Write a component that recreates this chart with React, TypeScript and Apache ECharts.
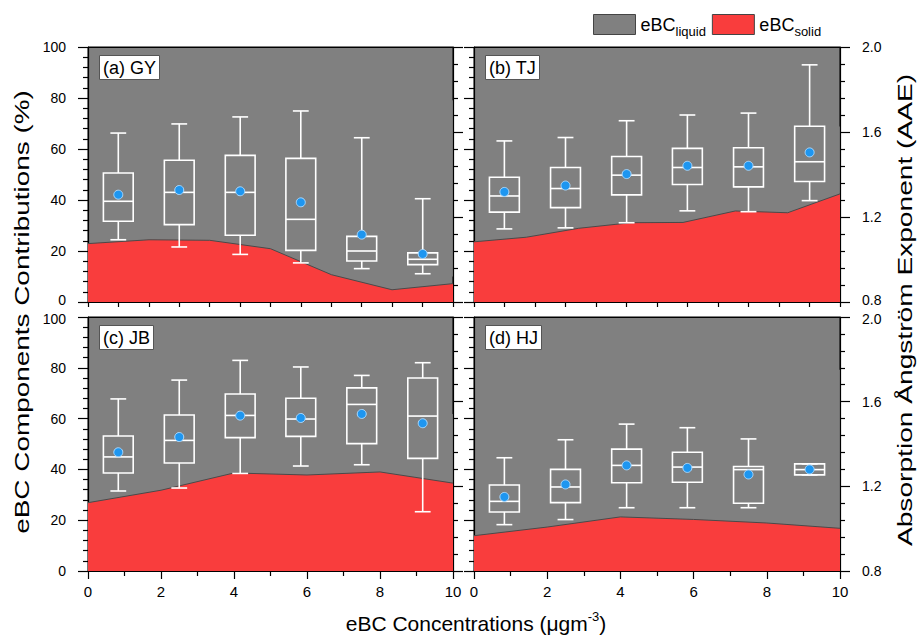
import React, { useEffect, useRef } from 'react';
import * as echarts from 'echarts';

// ---- data ----
const binCenters = [0.83, 2.5, 4.17, 5.83, 7.5, 9.17];
const binWidth = 10 / 6;

const gyAreaX = [0, 1.67, 3.33, 5, 6.67, 8.33, 10];
const gySolid = [22.9, 24.4, 24.2, 20.9, 10.7, 4.8, 7.2];
const tjAreaX = [0, 1.43, 2.86, 4.29, 5.71, 7.14, 8.57, 10];
const tjSolid = [23.6, 25.4, 28.9, 31.1, 31.2, 35.7, 35.0, 42.4];
const jbAreaX = [0, 2, 4, 6, 8, 10];
const jbSolid = [26.9, 31.8, 38.6, 37.8, 39.0, 34.6];
const hjAreaX = [0, 2, 4, 6, 8, 10];
const hjSolid = [13.9, 17.3, 21.3, 20.3, 18.9, 16.8];

// [min, Q1, median, Q3, max]
const gyBox = [
  [1.093, 1.18, 1.274, 1.407, 1.595],
  [1.059, 1.164, 1.316, 1.467, 1.638],
  [1.024, 1.114, 1.316, 1.49, 1.671],
  [0.984, 1.043, 1.189, 1.476, 1.699],
  [0.957, 0.993, 1.04, 1.109, 1.573],
  [0.933, 0.976, 1.001, 1.031, 1.286],
];
const gyMean = [1.305, 1.327, 1.321, 1.269, 1.117, 1.026];

const tjBox = [
  [1.144, 1.223, 1.299, 1.387, 1.558],
  [1.149, 1.244, 1.334, 1.433, 1.574],
  [1.173, 1.304, 1.397, 1.485, 1.653],
  [1.229, 1.353, 1.433, 1.523, 1.68],
  [1.225, 1.342, 1.436, 1.526, 1.689],
  [1.277, 1.367, 1.46, 1.627, 1.916],
];
const tjMean = [1.318, 1.348, 1.402, 1.441, 1.441, 1.504];

const jbBox = [
  [1.178, 1.263, 1.339, 1.438, 1.613],
  [1.192, 1.31, 1.417, 1.537, 1.702],
  [1.261, 1.43, 1.535, 1.636, 1.795],
  [1.296, 1.436, 1.518, 1.616, 1.764],
  [1.302, 1.402, 1.587, 1.665, 1.724],
  [1.08, 1.332, 1.532, 1.712, 1.784],
];
const jbMean = [1.361, 1.433, 1.534, 1.523, 1.542, 1.498];

const hjBox = [
  [1.019, 1.079, 1.129, 1.206, 1.335],
  [1.043, 1.123, 1.197, 1.28, 1.42],
  [1.099, 1.217, 1.299, 1.376, 1.494],
  [1.099, 1.219, 1.291, 1.361, 1.477],
  [1.099, 1.12, 1.279, 1.294, 1.424],
  [1.254, 1.254, 1.279, 1.306, 1.306],
];
const hjMean = [1.15, 1.209, 1.299, 1.287, 1.256, 1.28];

const panelLabels = ['(a) GY', '(b) TJ', '(c) JB', '(d) HJ'];

// ---- styles ----
const FONT = "'Liberation Sans', Arial, Helvetica, sans-serif";
const RED = '#F93D3D';
const GREY = '#808080';
const BLACK = '#000';
const TICK_FS = 14;

const panels = [
  { label: panelLabels[0], areaX: gyAreaX, solid: gySolid, box: gyBox, mean: gyMean, grid: { left: 88, top: 47, width: 365, height: 255 } },
  { label: panelLabels[1], areaX: tjAreaX, solid: tjSolid, box: tjBox, mean: tjMean, grid: { left: 474, top: 47, width: 366, height: 255 } },
  { label: panelLabels[2], areaX: jbAreaX, solid: jbSolid, box: jbBox, mean: jbMean, grid: { left: 88, top: 317, width: 365, height: 254 } },
  { label: panelLabels[3], areaX: hjAreaX, solid: hjSolid, box: hjBox, mean: hjMean, grid: { left: 474, top: 317, width: 366, height: 254 } },
];

function renderBox(params: any, api: any) {
  const x = api.value(0);
  const pMin = api.coord([x, api.value(1)]);
  const pQ1 = api.coord([x, api.value(2)]);
  const pMed = api.coord([x, api.value(3)]);
  const pQ3 = api.coord([x, api.value(4)]);
  const pMax = api.coord([x, api.value(5)]);
  const band = api.size([binWidth, 0])[0];
  const hw = band * 0.245;
  const cw = band * 0.13;
  const cx = pMed[0];
  const st = { stroke: '#fff', lineWidth: 1.6, fill: null };
  return {
    type: 'group',
    children: [
      { type: 'line', shape: { x1: cx, y1: pQ3[1], x2: cx, y2: pMax[1] }, style: st },
      { type: 'line', shape: { x1: cx, y1: pQ1[1], x2: cx, y2: pMin[1] }, style: st },
      { type: 'line', shape: { x1: cx - cw, y1: pMax[1], x2: cx + cw, y2: pMax[1] }, style: st },
      { type: 'line', shape: { x1: cx - cw, y1: pMin[1], x2: cx + cw, y2: pMin[1] }, style: st },
      { type: 'rect', shape: { x: cx - hw, y: pQ3[1], width: hw * 2, height: pQ1[1] - pQ3[1] }, style: { stroke: '#fff', lineWidth: 1.6, fill: 'none' } },
      { type: 'line', shape: { x1: cx - hw, y1: pMed[1], x2: cx + hw, y2: pMed[1] }, style: st },
    ],
  };
}

const labelRich = {
  lo: { fontSize: TICK_FS, fontFamily: FONT, color: BLACK, padding: [0, 0, 4, 0] },
  hi: { fontSize: TICK_FS, fontFamily: FONT, color: BLACK, padding: [4, 0, 0, 0] },
};

function buildOption() {
  const grid: any[] = [];
  const xAxis: any[] = [];
  const yAxis: any[] = [];
  const series: any[] = [];
  const title: any[] = [];
  const lineSt = { color: BLACK, width: 1.2 };

  panels.forEach((p, i) => {
    const bottomRow = i >= 2;
    const leftCol = i % 2 === 0;
    grid.push({ ...p.grid, show: true, backgroundColor: GREY, borderColor: BLACK, borderWidth: 1 });
    xAxis.push({
      type: 'value', gridIndex: i, position: 'bottom', min: 0, max: 10,
      interval: bottomRow ? 2 : 10 / 12,
      axisLine: { show: true, onZero: false, lineStyle: lineSt },
      axisTick: { show: true, inside: false, length: bottomRow ? 8 : 5, lineStyle: lineSt },
      minorTick: { show: bottomRow, splitNumber: 2, length: 5, lineStyle: lineSt },
      axisLabel: { show: bottomRow, fontSize: TICK_FS + 1, color: BLACK, margin: 13, fontFamily: FONT },
      splitLine: { show: false },
    });
    xAxis.push({
      type: 'value', gridIndex: i, position: 'top', min: 0, max: 10,
      axisLine: { show: true, onZero: false, lineStyle: lineSt },
      axisTick: { show: false }, axisLabel: { show: false }, splitLine: { show: false },
    });
    yAxis.push({
      type: 'value', gridIndex: i, position: 'left', min: 0, max: 100, interval: 20,
      axisLine: { show: true, onZero: false, lineStyle: lineSt },
      axisTick: { show: true, inside: false, length: 10, lineStyle: lineSt },
      minorTick: { show: true, splitNumber: 5, length: 5, lineStyle: lineSt },
      axisLabel: {
        show: leftCol, fontSize: TICK_FS, color: BLACK, margin: 22, fontFamily: FONT, rich: labelRich,
        formatter: (v: number) => {
          if (!bottomRow && v === 0) return '{lo|0}';
          if (bottomRow && v === 100) return '{hi|100}';
          return String(v);
        },
      },
      splitLine: { show: false },
    });
    yAxis.push({
      type: 'value', gridIndex: i, position: 'right', min: 0.8, max: 2.0, interval: 0.4,
      axisLine: { show: true, onZero: false, lineStyle: lineSt },
      axisTick: { show: true, inside: false, length: 10, lineStyle: lineSt },
      minorTick: { show: true, splitNumber: 5, length: 5, lineStyle: lineSt },
      axisLabel: {
        show: !leftCol, fontSize: TICK_FS, color: BLACK, margin: 22, fontFamily: FONT, rich: labelRich,
        formatter: (v: number) => {
          const s = v.toFixed(1);
          if (!bottomRow && Math.abs(v - 0.8) < 1e-6) return `{lo|${s}}`;
          if (bottomRow && Math.abs(v - 2.0) < 1e-6) return `{hi|${s}}`;
          return s;
        },
      },
      splitLine: { show: false },
    });

    series.push({
      type: 'line', name: 'eBC_solid', xAxisIndex: 2 * i, yAxisIndex: 2 * i, stack: 'p' + i,
      data: p.areaX.map((x, k) => [x, p.solid[k]]),
      symbol: 'none', lineStyle: { color: '#4a4a4a', width: 1 },
      areaStyle: { color: RED, opacity: 1 }, itemStyle: { color: RED }, z: 1,
    });
    series.push({
      type: 'line', name: 'eBC_liquid', xAxisIndex: 2 * i, yAxisIndex: 2 * i, stack: 'p' + i,
      data: p.areaX.map((x, k) => [x, 100 - p.solid[k]]),
      symbol: 'none', lineStyle: { width: 0 },
      areaStyle: { color: GREY, opacity: 1 }, itemStyle: { color: GREY }, z: 0,
    });
    series.push({
      type: 'custom', xAxisIndex: 2 * i, yAxisIndex: 2 * i + 1,
      data: p.box.map((b, k) => [binCenters[k], ...b]),
      encode: { x: 0, y: [1, 2, 3, 4, 5] },
      renderItem: renderBox, z: 3,
    });
    series.push({
      type: 'scatter', xAxisIndex: 2 * i, yAxisIndex: 2 * i + 1,
      data: p.mean.map((m, k) => [binCenters[k], m]),
      symbolSize: 9,
      itemStyle: { color: '#1E96F0', borderColor: '#A9D9FF', borderWidth: 1, opacity: 1 }, z: 4,
    });

    title.push({
      text: p.label, left: p.grid.left + 11, top: p.grid.top + 8,
      backgroundColor: '#fff', borderColor: '#555', borderWidth: 1, padding: [4, 4, 3, 4],
      textStyle: { fontSize: 18, fontWeight: 'normal', color: BLACK, fontFamily: FONT },
    });
  });

  return {
    animation: false,
    backgroundColor: '#fff',
    grid, xAxis, yAxis, series, title,
    legend: {
      left: 593, top: 14, padding: 0, itemWidth: 42, itemHeight: 20, itemGap: 6, icon: 'rect',
      selectedMode: false,
      data: [
        { name: 'eBC_liquid', itemStyle: { color: GREY, borderColor: '#444', borderWidth: 1 } },
        { name: 'eBC_solid', itemStyle: { color: RED, borderColor: '#444', borderWidth: 1 } },
      ],
      formatter: (n: string) => `{a|eBC}{b|${n.split('_')[1]}}`,
      textStyle: {
        rich: {
          a: { fontSize: 18, fontFamily: FONT, color: BLACK, verticalAlign: 'middle', lineHeight: 26 },
          b: { fontSize: 13, fontFamily: FONT, color: BLACK, verticalAlign: 'bottom', lineHeight: 26 },
        },
      },
    },
    graphic: [
      {
        type: 'text', x: 22, y: 312, rotation: Math.PI / 2, scaleX: 1.33,
        style: { text: 'eBC Components Contributions (%)', fontSize: 21, fontFamily: FONT, fill: BLACK, align: 'center', verticalAlign: 'middle' },
      },
      {
        type: 'text', x: 905, y: 310, rotation: Math.PI / 2, scaleX: 1.34,
        style: { text: 'Absorption Ångström Exponent (AAE)', fontSize: 21, fontFamily: FONT, fill: BLACK, align: 'center', verticalAlign: 'middle' },
      },
      {
        type: 'text', x: 476, y: 622,
        style: {
          text: '{a|eBC Concentrations (μgm}{b|-3}{a|)}', align: 'center', verticalAlign: 'middle',
          rich: {
            a: { fontSize: 21, fontFamily: FONT, fill: BLACK, verticalAlign: 'bottom', lineHeight: 24 },
            b: { fontSize: 13, fontFamily: FONT, fill: BLACK, verticalAlign: 'top', lineHeight: 24 },
          },
        },
      },
    ],
  };
}

export default function App() {
  const ref = useRef<HTMLDivElement>(null);
  useEffect(() => {
    if (!ref.current) return;
    const chart = echarts.init(ref.current, undefined, { renderer: 'svg' });
    chart.setOption(buildOption() as any);
    return () => chart.dispose();
  }, []);
  return <div ref={ref} style={{ position: 'fixed', left: 0, top: 0, width: 919, height: 635 }} />;
}
